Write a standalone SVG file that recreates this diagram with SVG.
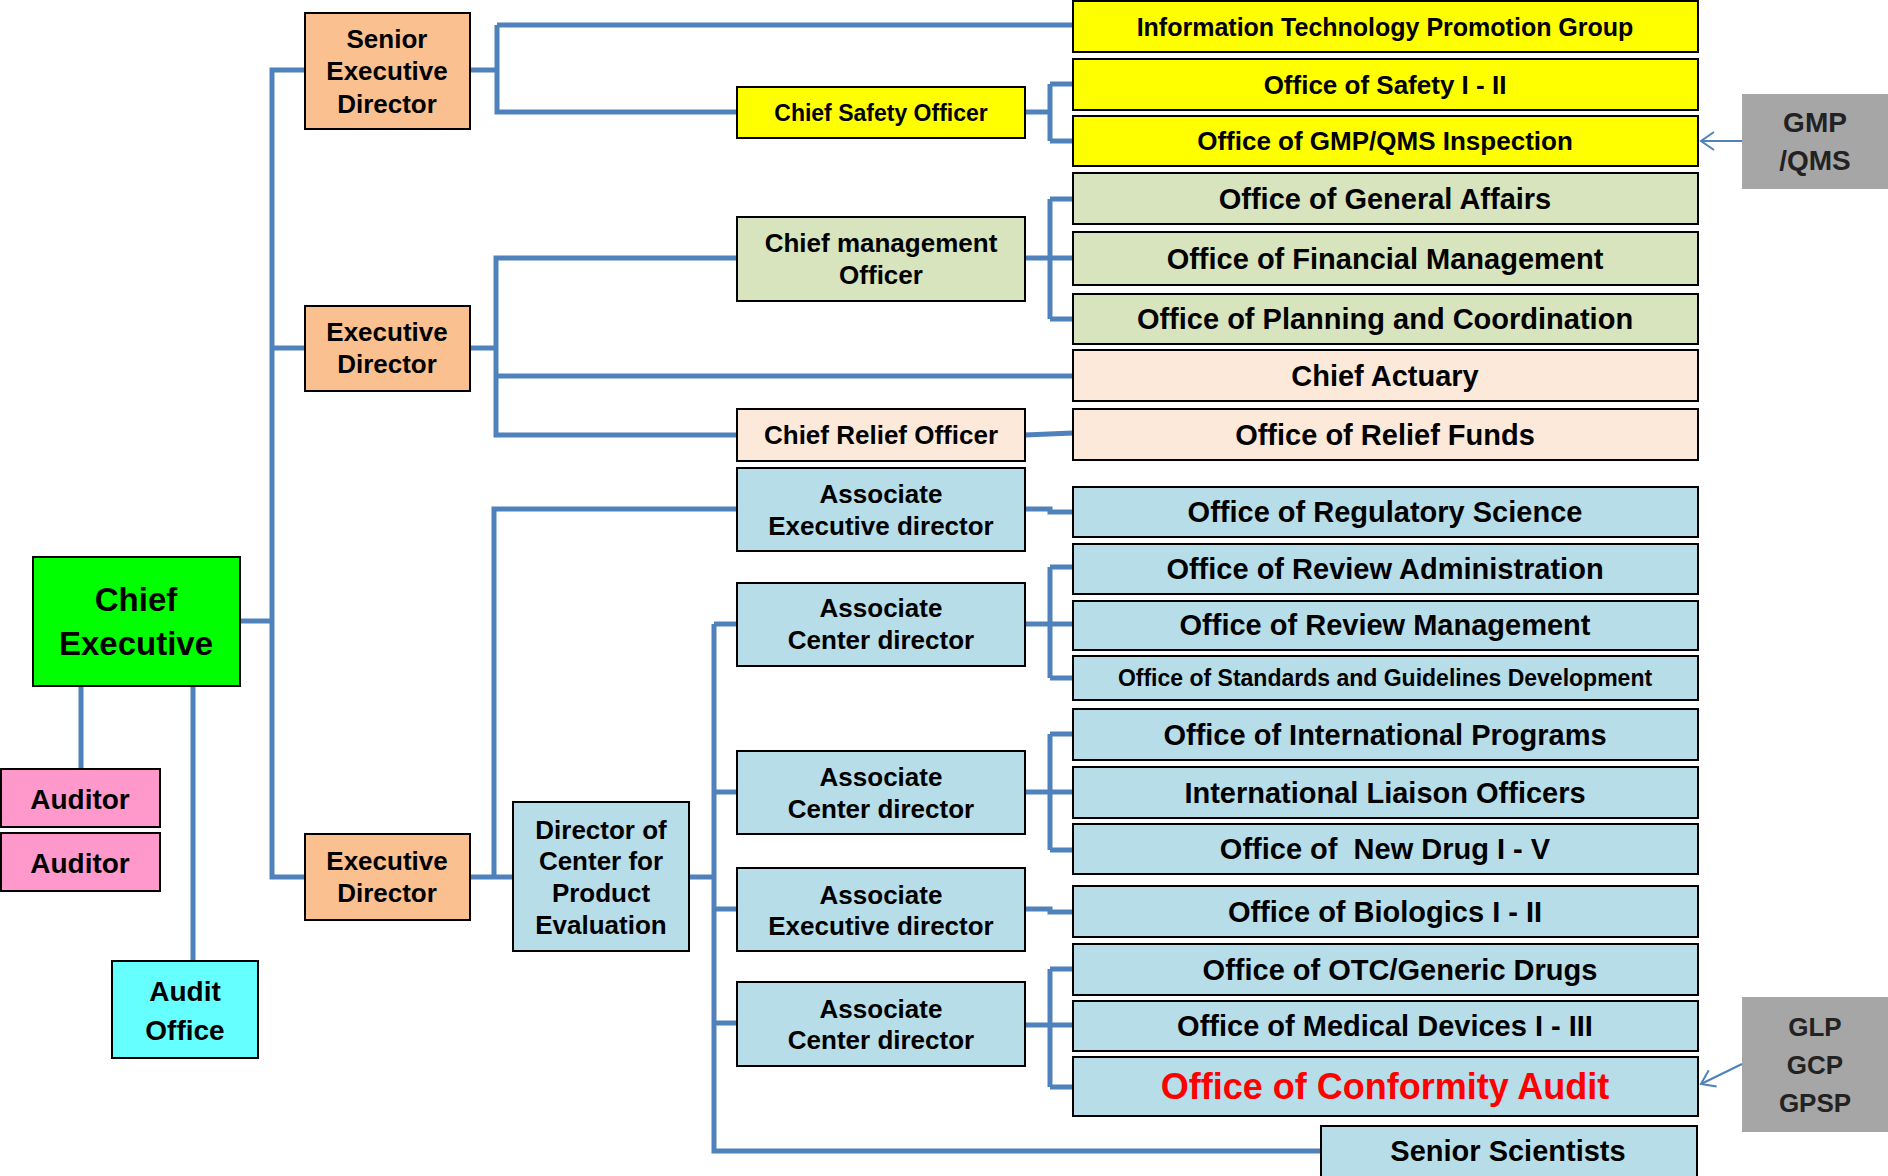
<svg xmlns="http://www.w3.org/2000/svg" width="1888" height="1176" viewBox="0 0 1888 1176">
<style>
text{font-family:"Liberation Sans",Arial,sans-serif;font-weight:bold;text-anchor:middle;fill:#000}
.b{stroke:#000;stroke-width:2}
.or{fill:#fac090}.ye{fill:#ffff00}.gr{fill:#d7e4bd}.pe{fill:#fde9d9}.bl{fill:#b7dde8}
.gy{fill:#a6a6a6}
.r{font-size:29px}.m{font-size:26px}
.con{fill:none;stroke:#4f81bd;stroke-width:5}
.arr{fill:none;stroke:#4f81bd;stroke-width:2}
</style>
<defs>
<marker id="ah" markerUnits="userSpaceOnUse" markerWidth="18" markerHeight="22" refX="15" refY="11" orient="auto" viewBox="0 0 18 22">
<path d="M2,2 L15,11 L2,20" fill="none" stroke="#4f81bd" stroke-width="2"/>
</marker>
</defs>
<rect width="1888" height="1176" fill="#fff"/>

<g id="connectors">
<path class="con" d="M305 70 H272 V877 H305 M272 348 H305 M240 621 H272"/>
<path class="con" d="M81 686 V769 M193 686 V961"/>
<path class="con" d="M470 70 H497 M497 25 H1073 M497 25 V112 H737"/>
<path class="con" d="M1025 112 H1050 M1050 84 V141 M1050 84 H1073 M1050 141 H1073"/>
<path class="con" d="M470 348 H496 M737 258 H496 V435 H737 M496 376 H1073"/>
<path class="con" d="M1025 258 H1073 M1050 199 V319 M1050 199 H1073 M1050 319 H1073"/>
<path class="con" d="M1025 435 L1073 433"/>
<path class="con" d="M470 877 H513 M494 877 V509 H737"/>
<path class="con" d="M1025 509 H1050 V512 H1073"/>
<path class="con" d="M689 877 H714 M714 624 V1151 H1321 M714 624 H737 M714 792 H737 M714 909 H737 M714 1023 H737"/>
<path class="con" d="M1025 624 H1073 M1050 567 V678 M1050 567 H1073 M1050 678 H1073"/>
<path class="con" d="M1025 792 H1073 M1050 734 V850 M1050 734 H1073 M1050 850 H1073"/>
<path class="con" d="M1025 909 H1050 V912 H1073"/>
<path class="con" d="M1025 1025 H1073 M1050 969 V1087 M1050 969 H1073 M1050 1087 H1073"/>
</g>

<g id="chief-executive"><rect class="b" x="33" y="557" width="207" height="129" fill="#00ff00"/>
<text x="136" y="611" font-size="33">Chief</text><text x="136" y="655" font-size="33">Executive</text></g>
<g id="auditor-1"><rect class="b" x="1" y="769" width="159" height="58" fill="#ff99cc"/><text x="80" y="809" font-size="28">Auditor</text></g>
<g id="auditor-2"><rect class="b" x="1" y="833" width="159" height="58" fill="#ff99cc"/><text x="80" y="873" font-size="28">Auditor</text></g>
<g id="audit-office"><rect class="b" x="112" y="961" width="146" height="97" fill="#66ffff"/>
<text x="185" y="1001" font-size="28">Audit</text><text x="185" y="1040" font-size="28">Office</text></g>

<g id="senior-executive-director"><rect class="b or" x="305" y="13" width="165" height="116"/>
<text class="m" x="387" y="48">Senior</text><text class="m" x="387" y="80">Executive</text><text class="m" x="387" y="113">Director</text></g>
<g id="executive-director-1"><rect class="b or" x="305" y="306" width="165" height="85"/>
<text class="m" x="387" y="341">Executive</text><text class="m" x="387" y="373">Director</text></g>
<g id="executive-director-2"><rect class="b or" x="305" y="834" width="165" height="86"/>
<text class="m" x="387" y="870">Executive</text><text class="m" x="387" y="902">Director</text></g>
<g id="director-center"><rect class="b bl" x="513" y="802" width="176" height="149"/>
<text class="m" x="601" y="839">Director of</text><text class="m" x="601" y="870">Center for</text><text class="m" x="601" y="902">Product</text><text class="m" x="601" y="934">Evaluation</text></g>

<g id="chief-safety-officer"><rect class="b ye" x="737" y="87" width="288" height="51"/><text x="881" y="121" font-size="23">Chief Safety Officer</text></g>
<g id="chief-management-officer"><rect class="b gr" x="737" y="217" width="288" height="84"/>
<text class="m" x="881" y="252">Chief management</text><text class="m" x="881" y="284">Officer</text></g>
<g id="chief-relief-officer"><rect class="b pe" x="737" y="409" width="288" height="52"/><text class="m" x="881" y="444">Chief Relief Officer</text></g>
<g id="assoc-exec-1"><rect class="b bl" x="737" y="468" width="288" height="83"/>
<text class="m" x="881" y="503">Associate</text><text class="m" x="881" y="535">Executive director</text></g>
<g id="assoc-center-1"><rect class="b bl" x="737" y="583" width="288" height="83"/>
<text class="m" x="881" y="617">Associate</text><text class="m" x="881" y="649">Center director</text></g>
<g id="assoc-center-2"><rect class="b bl" x="737" y="751" width="288" height="83"/>
<text class="m" x="881" y="786">Associate</text><text class="m" x="881" y="818">Center director</text></g>
<g id="assoc-exec-2"><rect class="b bl" x="737" y="868" width="288" height="83"/>
<text class="m" x="881" y="904">Associate</text><text class="m" x="881" y="935">Executive director</text></g>
<g id="assoc-center-3"><rect class="b bl" x="737" y="982" width="288" height="84"/>
<text class="m" x="881" y="1018">Associate</text><text class="m" x="881" y="1049">Center director</text></g>

<g id="it-group"><rect class="b ye" x="1073" y="1" width="625" height="51"/><text x="1385" y="36" font-size="25">Information Technology Promotion Group</text></g>
<g id="office-safety"><rect class="b ye" x="1073" y="59" width="625" height="51"/><text x="1385" y="94" font-size="26">Office of Safety I - II</text></g>
<g id="office-gmp"><rect class="b ye" x="1073" y="116" width="625" height="50"/><text x="1385" y="150" font-size="26">Office of GMP/QMS Inspection</text></g>
<g id="office-general-affairs"><rect class="b gr" x="1073" y="173" width="625" height="51"/><text class="r" x="1385" y="209">Office of General Affairs</text></g>
<g id="office-financial"><rect class="b gr" x="1073" y="232" width="625" height="53"/><text class="r" x="1385" y="269">Office of Financial Management</text></g>
<g id="office-planning"><rect class="b gr" x="1073" y="294" width="625" height="50"/><text class="r" x="1385" y="329">Office of Planning and Coordination</text></g>
<g id="chief-actuary"><rect class="b pe" x="1073" y="350" width="625" height="51"/><text class="r" x="1385" y="386">Chief Actuary</text></g>
<g id="office-relief"><rect class="b pe" x="1073" y="409" width="625" height="51"/><text class="r" x="1385" y="445">Office of Relief Funds</text></g>
<g id="office-regulatory"><rect class="b bl" x="1073" y="487" width="625" height="50"/><text class="r" x="1385" y="522">Office of Regulatory Science</text></g>
<g id="office-review-admin"><rect class="b bl" x="1073" y="544" width="625" height="50"/><text class="r" x="1385" y="579">Office of Review Administration</text></g>
<g id="office-review-mgmt"><rect class="b bl" x="1073" y="601" width="625" height="49"/><text class="r" x="1385" y="635">Office of Review Management</text></g>
<g id="office-standards"><rect class="b bl" x="1073" y="656" width="625" height="44"/><text x="1385" y="686" font-size="23">Office of Standards and Guidelines Development</text></g>
<g id="office-international"><rect class="b bl" x="1073" y="709" width="625" height="51"/><text class="r" x="1385" y="745">Office of International Programs</text></g>
<g id="liaison-officers"><rect class="b bl" x="1073" y="767" width="625" height="51"/><text class="r" x="1385" y="803">International Liaison Officers</text></g>
<g id="office-new-drug"><rect class="b bl" x="1073" y="824" width="625" height="50"/><text class="r" x="1385" y="859" xml:space="preserve">Office of  New Drug I - V</text></g>
<g id="office-biologics"><rect class="b bl" x="1073" y="886" width="625" height="51"/><text class="r" x="1385" y="922">Office of Biologics I - II</text></g>
<g id="office-otc"><rect class="b bl" x="1073" y="944" width="625" height="51"/><text class="r" x="1400" y="980">Office of OTC/Generic Drugs</text></g>
<g id="office-medical-devices"><rect class="b bl" x="1073" y="1001" width="625" height="50"/><text class="r" x="1385" y="1036">Office of Medical Devices I - III</text></g>
<g id="office-conformity"><rect class="b bl" x="1073" y="1057" width="625" height="59"/><text x="1385" y="1099" font-size="36" style="fill:#ff0000">Office of Conformity Audit</text></g>
<g id="senior-scientists"><rect class="b bl" x="1321" y="1126" width="376" height="60"/><text class="r" x="1508" y="1161">Senior Scientists</text></g>

<g id="gmp-qms"><rect class="gy" x="1742" y="94" width="146" height="95"/>
<text x="1815" y="132" font-size="28" style="fill:#222">GMP</text><text x="1815" y="170" font-size="28" style="fill:#222">/QMS</text></g>
<g id="glp-gcp-gpsp"><rect class="gy" x="1742" y="997" width="146" height="135"/>
<text x="1815" y="1036" font-size="26" style="fill:#222">GLP</text><text x="1815" y="1074" font-size="26" style="fill:#222">GCP</text><text x="1815" y="1112" font-size="26" style="fill:#222">GPSP</text></g>

<g id="arrows">
<path class="arr" d="M1742 141 H1701" marker-end="url(#ah)"/>
<path class="arr" d="M1742 1064 L1701 1084" marker-end="url(#ah)"/>
</g>
</svg>
